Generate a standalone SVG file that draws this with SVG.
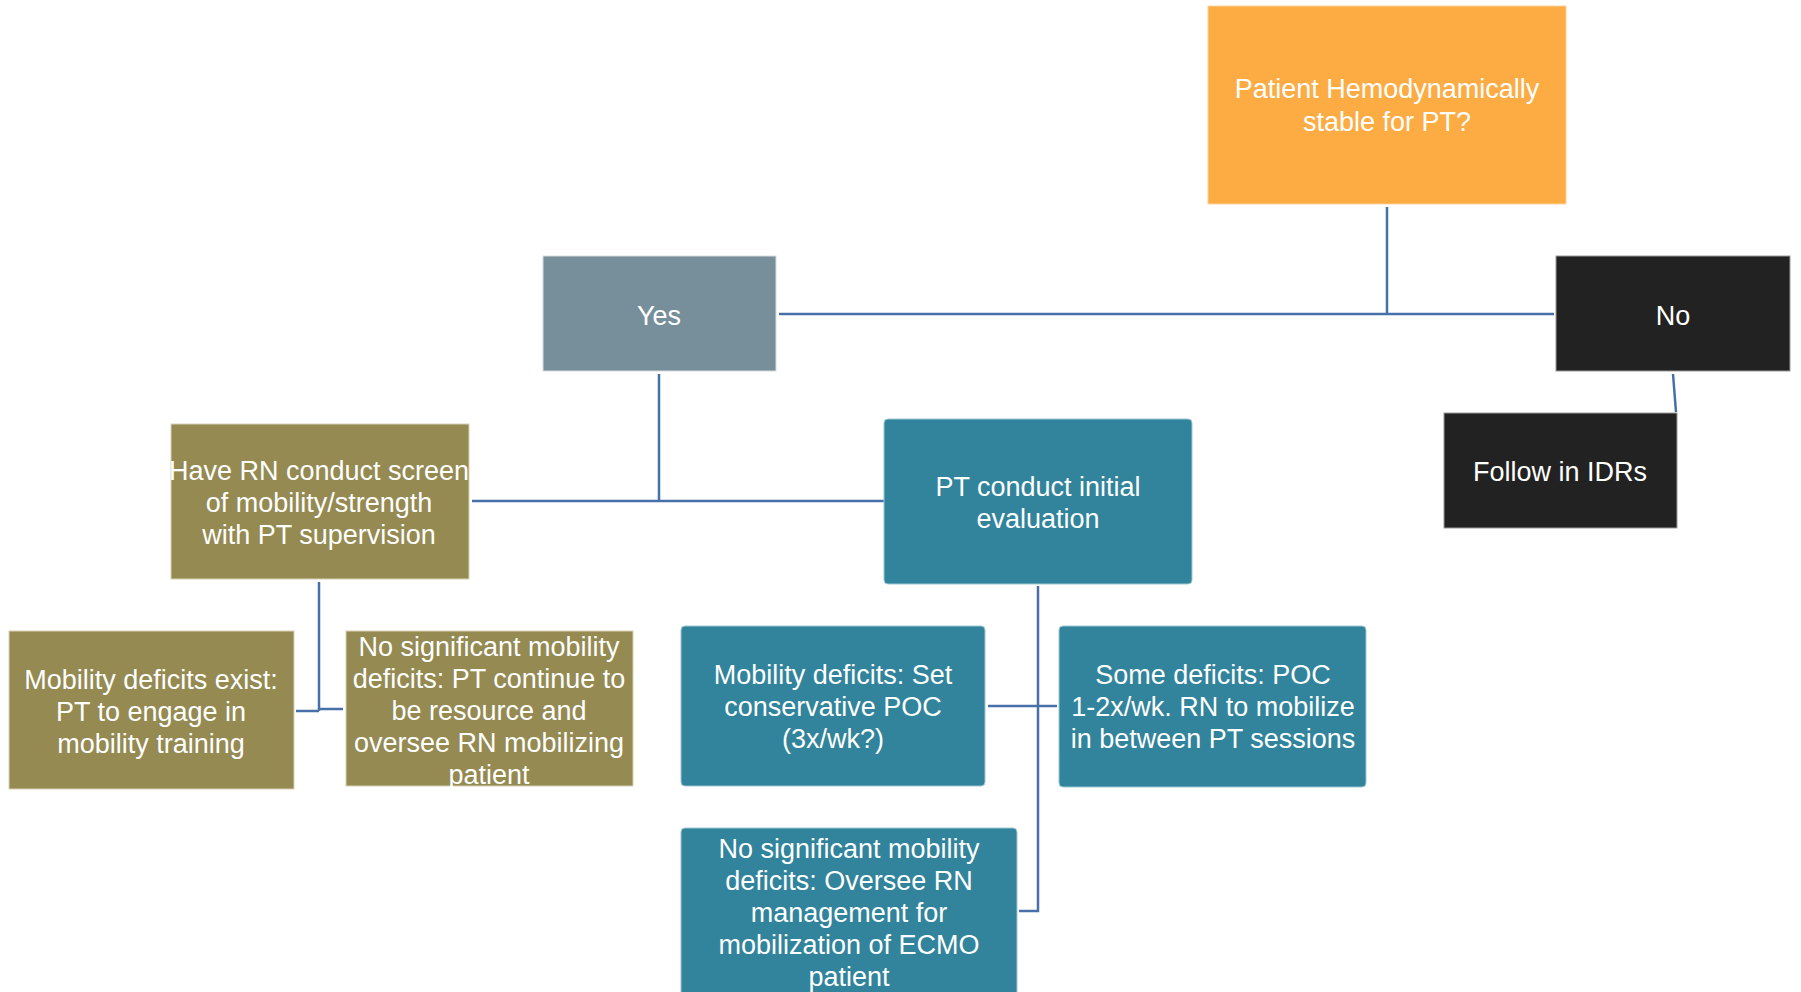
<svg xmlns="http://www.w3.org/2000/svg" width="1801" height="992" viewBox="0 0 1801 992">
  <style>
    .lbl { font-family: "Liberation Sans", Arial, sans-serif; font-size: 27px; fill: #ffffff; text-anchor: middle; }
    .edge { fill: none; stroke: #4770a8; stroke-width: 2.5; }
    .orange { fill: #fdab43; stroke: #fbd3a0; stroke-width: 1; }
    .slate { fill: #778f9a; stroke: #d8dde0; stroke-width: 1; }
    .dark { fill: #222222; stroke: #9a9a9a; stroke-width: 1; }
    .teal { fill: #31849b; stroke: #9cc7d2; stroke-width: 1; }
    .olive { fill: #948a52; stroke: #d7d2b8; stroke-width: 1; }
  </style>

  <!-- connectors -->
  <g id="connectors">
    <path class="edge" d="M1387,207 V314"/>
    <path class="edge" d="M779,314 H1554"/>
    <path class="edge" d="M659,374 V501"/>
    <path class="edge" d="M472,501 H884"/>
    <path class="edge" d="M1038,586 V911 H1019"/>
    <path class="edge" d="M988,706 H1057"/>
    <path class="edge" d="M319,582 V711"/>
    <path class="edge" d="M296,711 H319 M319,709 H343"/>
    <path class="edge" d="M1673,374 L1676,412"/>
  </g>

  <g id="hemodynamic">
    <rect class="orange" x="1208" y="6" width="358" height="198"/>
    <text class="lbl" x="1387" y="98">Patient Hemodynamically</text>
    <text class="lbl" x="1387" y="131">stable for PT?</text>
  </g>

  <g id="yes">
    <rect class="slate" x="543" y="256" width="233" height="115"/>
    <text class="lbl" x="659" y="325">Yes</text>
  </g>

  <g id="no">
    <rect class="dark" x="1556" y="256" width="234" height="115"/>
    <text class="lbl" x="1673" y="325">No</text>
  </g>

  <g id="follow-idrs">
    <rect class="dark" x="1444" y="413" width="233" height="115"/>
    <text class="lbl" x="1560" y="481">Follow in IDRs</text>
  </g>

  <g id="pt-eval">
    <rect class="teal" x="884" y="419" width="308" height="165" rx="4"/>
    <text class="lbl" x="1038" y="496">PT conduct initial</text>
    <text class="lbl" x="1038" y="528">evaluation</text>
  </g>

  <g id="rn-screen">
    <rect class="olive" x="171" y="424" width="298" height="155"/>
    <text class="lbl" x="319" y="480">Have RN conduct screen</text>
    <text class="lbl" x="319" y="512">of mobility/strength</text>
    <text class="lbl" x="319" y="544">with PT supervision</text>
  </g>

  <g id="deficits-exist">
    <rect class="olive" x="9" y="631" width="285" height="158"/>
    <text class="lbl" x="151" y="689">Mobility deficits exist:</text>
    <text class="lbl" x="151" y="721">PT to engage in</text>
    <text class="lbl" x="151" y="753">mobility training</text>
  </g>

  <g id="no-deficits-resource">
    <rect class="olive" x="346" y="631" width="287" height="155"/>
    <text class="lbl" x="489" y="656">No significant mobility</text>
    <text class="lbl" x="489" y="688">deficits: PT continue to</text>
    <text class="lbl" x="489" y="720">be resource and</text>
    <text class="lbl" x="489" y="752">oversee RN mobilizing</text>
    <text class="lbl" x="489" y="784">patient</text>
  </g>

  <g id="conservative-poc">
    <rect class="teal" x="681" y="626" width="304" height="160" rx="4"/>
    <text class="lbl" x="833" y="684">Mobility deficits: Set</text>
    <text class="lbl" x="833" y="716">conservative POC</text>
    <text class="lbl" x="833" y="748">(3x/wk?)</text>
  </g>

  <g id="some-deficits">
    <rect class="teal" x="1059" y="626" width="307" height="161" rx="4"/>
    <text class="lbl" x="1213" y="684">Some deficits: POC</text>
    <text class="lbl" x="1213" y="716">1-2x/wk. RN to mobilize</text>
    <text class="lbl" x="1213" y="748">in between PT sessions</text>
  </g>

  <g id="no-deficits-oversee">
    <rect class="teal" x="681" y="828" width="336" height="180" rx="4"/>
    <text class="lbl" x="849" y="858">No significant mobility</text>
    <text class="lbl" x="849" y="890">deficits: Oversee RN</text>
    <text class="lbl" x="849" y="922">management for</text>
    <text class="lbl" x="849" y="954">mobilization of ECMO</text>
    <text class="lbl" x="849" y="986">patient</text>
  </g>
</svg>
